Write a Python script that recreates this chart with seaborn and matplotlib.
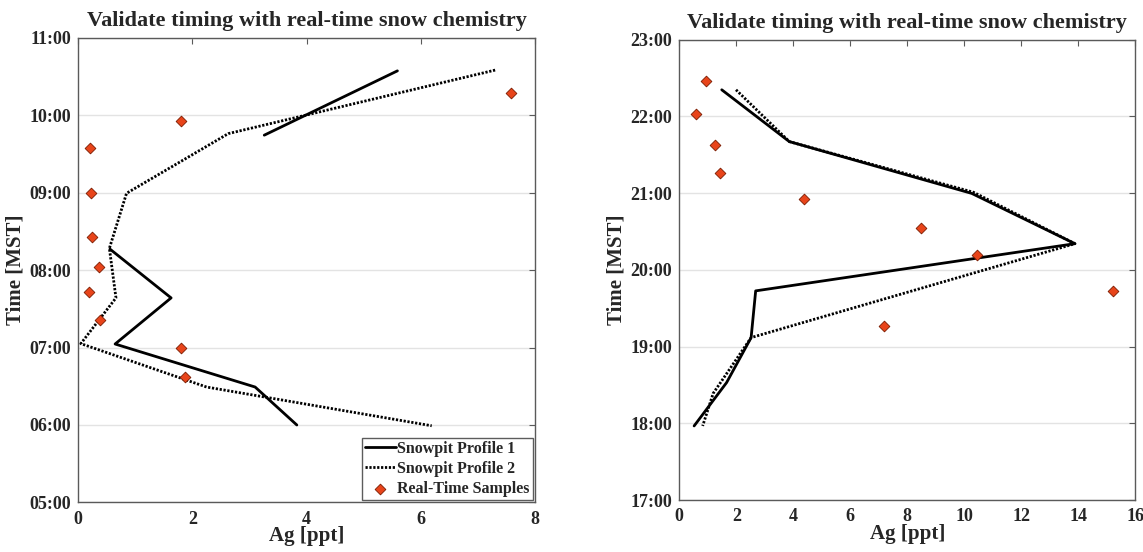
import numpy as np
import pandas as pd
import matplotlib
matplotlib.use("Agg")
import matplotlib.pyplot as plt
from matplotlib.ticker import FuncFormatter, MultipleLocator
import seaborn as sns

# ---- left panel (morning) ----
p1_am_ag = [5.59, 3.26, 0.56, 1.63, 0.65, 3.10, 3.83]
p1_am_hr = [10.57, 9.74, 8.27, 7.64, 7.045, 6.49, 6.0]
p1_am_seg = [0, 0, 1, 1, 1, 1, 1]

p2_am_ag = [7.30, 2.63, 0.85, 0.55, 0.665, 0.05, 2.25, 6.19]
p2_am_hr = [10.58, 9.76, 8.99, 8.28, 7.64, 7.05, 6.49, 5.99]

rt_am_ag = [7.57, 1.80, 0.21, 0.22, 0.25, 0.37, 0.19, 0.385, 1.80, 1.87]
rt_am_hr = [10.28, 9.92, 9.58, 8.99, 8.42, 8.04, 7.71, 7.355, 6.99, 6.615]

# ---- right panel (evening) ----
p1_pm_ag = [1.49, 3.86, 10.26, 13.88, 2.68, 2.52, 1.66, 0.52]
p1_pm_hr = [22.345, 21.67, 20.995, 20.34, 19.725, 19.116, 18.53, 17.965]

p2_pm_ag = [1.99, 3.86, 10.32, 13.88, 2.52, 1.19, 0.82]
p2_pm_hr = [22.345, 21.67, 21.01, 20.34, 19.116, 18.39, 17.965]

rt_pm_ag = [0.95, 0.60, 1.24, 1.42, 4.36, 8.48, 10.44, 15.22, 7.19]
rt_pm_hr = [22.46, 22.03, 21.63, 21.26, 20.92, 20.54, 20.19, 19.72, 19.27]

sns.set_theme(style="white")
plt.rcParams["font.family"] = ["Liberation Serif", "DejaVu Serif"]
plt.rcParams["font.weight"] = "bold"
plt.rcParams["axes.labelweight"] = "bold"

txt = "#262626"
spine_c = "#5a5a5a"
diamond = "#e8441a"

fig = plt.figure(figsize=(11.43, 5.52), dpi=100)
ax1 = fig.add_axes([0.0682, 0.0897, 0.4000, 0.8423])
ax2 = fig.add_axes([0.5943, 0.0942, 0.3990, 0.8342])


def hhmm(v, pos):
    return f"{int(round(v)) % 24:02d}:00"


def draw(ax, p1x, p1y, p1s, p2x, p2y, rtx, rty, ylim, xmax, legend):
    d1 = pd.DataFrame({"ag": p1x, "hr": p1y, "seg": p1s})
    d2 = pd.DataFrame({"ag": p2x, "hr": p2y})
    d3 = pd.DataFrame({"ag": rtx, "hr": rty})
    sns.lineplot(data=d1, x="ag", y="hr", units="seg", estimator=None, sort=False,
                 color="black", lw=2, ax=ax, label="Snowpit Profile 1")
    sns.lineplot(data=d2, x="ag", y="hr", sort=False, estimator=None,
                 color="black", lw=2, ls=(0, (0.8, 0.6)), ax=ax,
                 label="Snowpit Profile 2")
    sns.scatterplot(data=d3, x="ag", y="hr", marker="D", s=30, color=diamond,
                    edgecolor="#7a1a00", linewidth=0.6, ax=ax, zorder=5,
                    label="Real-Time Samples")
    ax.set_xlim(0, xmax)
    ax.set_ylim(*ylim)
    ax.xaxis.set_major_locator(MultipleLocator(2))
    ax.yaxis.set_major_locator(MultipleLocator(1))
    ax.yaxis.set_major_formatter(FuncFormatter(hhmm))
    ax.grid(axis="y", color="#e3e3e3", lw=1)
    ax.set_axisbelow(True)
    for s in ax.spines.values():
        s.set_color(spine_c)
        s.set_linewidth(1)
    ax.tick_params(direction="in", length=4, width=0.8, color=spine_c,
                   top=True, right=True, labelsize=13, labelcolor=txt, pad=5)
    ax.tick_params(axis="x", pad=6)
    ax.set_xlabel("Ag [ppt]", fontsize=15, color=txt, labelpad=-1)
    ax.set_ylabel("Time [MST]", fontsize=15, color=txt, labelpad=3)
    ax.set_title("Validate timing with real-time snow chemistry", fontsize=16,
                 color=txt, fontweight="bold", pad=8)
    handles, labels = ax.get_legend_handles_labels()
    uniq = {}
    for h, l in zip(handles, labels):
        uniq.setdefault(l, h)
    if legend:
        leg = ax.legend(list(uniq.values()), list(uniq.keys()), loc="lower right",
                        fontsize=11.5, frameon=True, fancybox=False,
                        edgecolor="#333333", borderaxespad=0.15, handlelength=1.9,
                        handletextpad=0.1, borderpad=0.2, labelspacing=0.25)
        leg.get_frame().set_linewidth(1)
        for t in leg.get_texts():
            t.set_color(txt)
    elif ax.get_legend():
        ax.get_legend().remove()


draw(ax1, p1_am_ag, p1_am_hr, p1_am_seg, p2_am_ag, p2_am_hr, rt_am_ag, rt_am_hr,
     (5, 11), 8, True)
draw(ax2, p1_pm_ag, p1_pm_hr, [0] * len(p1_pm_ag), p2_pm_ag, p2_pm_hr, rt_pm_ag, rt_pm_hr,
     (17, 23), 16, False)

fig.savefig("out.png", dpi=100)
